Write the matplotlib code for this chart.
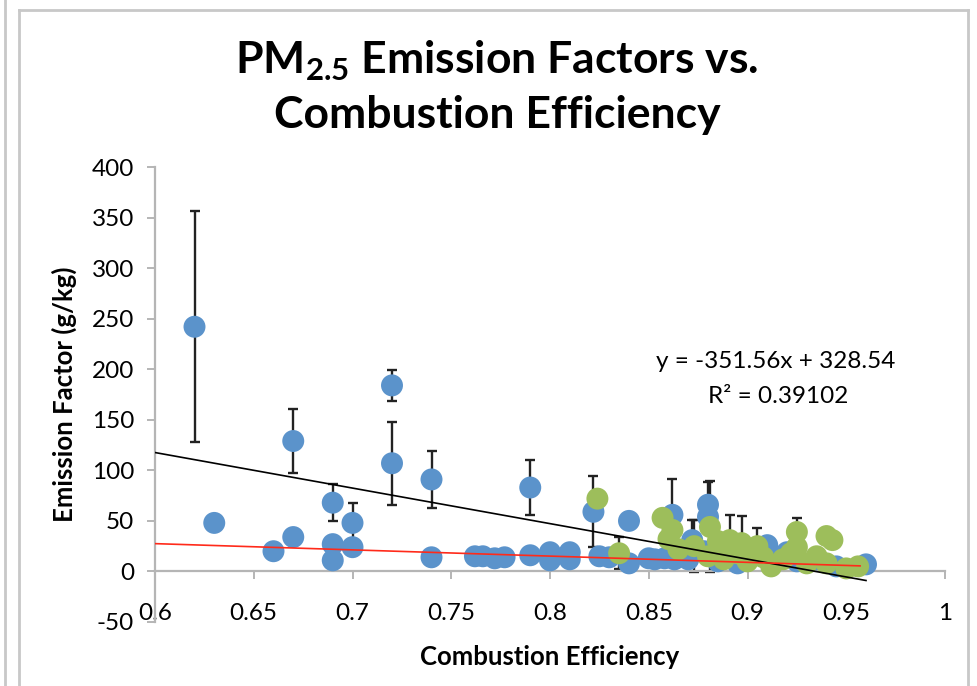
import matplotlib
matplotlib.use("Agg")
import matplotlib.pyplot as plt
from matplotlib.lines import Line2D
import numpy as np

plt.rcParams['font.family'] = ['Lato', 'DejaVu Sans']
plt.rcParams['mathtext.fontset'] = 'custom'
plt.rcParams['mathtext.rm'] = 'Lato'
plt.rcParams['mathtext.bf'] = 'Lato:bold'
plt.rcParams['axes.unicode_minus'] = False

# Series 1 (blue): combustion efficiency, emission factor, error (0 = none)
blue_x = [0.62, 0.63, 0.66, 0.67, 0.67, 0.69, 0.69, 0.69, 0.70, 0.70,
          0.72, 0.72, 0.74, 0.74, 0.762, 0.766, 0.772, 0.777, 0.79, 0.79,
          0.80, 0.80, 0.81, 0.81, 0.822, 0.825, 0.83, 0.84, 0.84, 0.85,
          0.853, 0.858, 0.862, 0.863, 0.87, 0.872, 0.88, 0.88, 0.878, 0.885,
          0.895, 0.90, 0.91, 0.912, 0.92, 0.925, 0.935, 0.945, 0.96]
blue_y = [242, 48, 20, 34, 129, 68, 27, 11, 48, 24,
          184, 107, 91, 14, 15, 15, 13, 14, 83, 16,
          19, 11, 19, 12, 59, 15, 14, 50, 8, 13,
          12, 13, 56, 12, 12, 31, 66, 54, 20, 10,
          8, 12, 26, 8, 19, 10, 12, 5, 7]
blue_err = [114, 0, 0, 0, 32, 18, 0, 0, 20, 0,
            15, 41, 28, 0, 0, 0, 0, 0, 27, 0,
            0, 0, 0, 0, 35, 0, 0, 0, 0, 0,
            0, 0, 35, 0, 0, 20, 22, 0, 0, 0,
            0, 0, 0, 0, 0, 0, 0, 0, 0]

# Series 2 (green)
green_x = [0.824, 0.835, 0.857, 0.862, 0.86, 0.865, 0.873, 0.881, 0.88, 0.885,
           0.888, 0.891, 0.895, 0.897, 0.90, 0.905, 0.908, 0.912, 0.918, 0.922,
           0.925, 0.925, 0.93, 0.935, 0.94, 0.943, 0.94, 0.95, 0.956]
green_y = [72, 18, 53, 41, 32, 22, 25, 44, 15, 30,
           12, 31, 18, 28, 10, 25, 14, 5, 12, 18,
           39, 24, 8, 15, 35, 31, 8, 3, 5]
green_err = [0, 16, 0, 0, 0, 0, 26, 45, 0, 0,
             0, 25, 0, 27, 0, 18, 0, 0, 0, 0,
             14, 0, 0, 0, 0, 0, 0, 0, 0]

# trendlines
fit_slope, fit_icpt = -351.56, 328.54
fit_x = [0.6, 0.96]
red_x = [0.6, 0.957]
red_y = [27.5, 5.5]

x_ticks = [0.6, 0.65, 0.7, 0.75, 0.8, 0.85, 0.9, 0.95, 1.0]
x_labels = ['0.6', '0.65', '0.7', '0.75', '0.8', '0.85', '0.9', '0.95', '1']
y_ticks = [-50, 0, 50, 100, 150, 200, 250, 300, 350, 400]

BLUE = '#5B93CB'
GREEN = '#9DBE5B'
AXGREY = '#B5B5B5'

fig = plt.figure(figsize=(9.77, 6.86), dpi=100)
W, H = 977, 686

def px(x, y):
    return x / W, 1 - y / H

# chart frame
for (x0, y0), (x1, y1) in [((19, 10), (968, 10)), ((19, 10), (19, 686)),
                           ((968, 10), (968, 686)), ((5, 0), (5, 686))]:
    a, b = px(x0, y0)
    c, d = px(x1, y1)
    fig.add_artist(Line2D([a, c], [b, d], transform=fig.transFigure,
                          color='#C8C8C8', lw=2))

ax = fig.add_axes([155 / W, 64 / H, 790 / W, 455 / H])
ax.set_xlim(0.6, 1.0)
ax.set_ylim(-50, 400)

# error bars
def draw_err(xs, ys, es):
    ex = [x for x, e in zip(xs, es) if e > 0]
    ey = [y for y, e in zip(ys, es) if e > 0]
    ee = [e for e in es if e > 0]
    ax.errorbar(ex, ey, yerr=ee, fmt='none', ecolor='#222222', elinewidth=1.7,
                capsize=3.5, capthick=1.7, zorder=2)

draw_err(blue_x, blue_y, blue_err)
draw_err(green_x, green_y, green_err)

ax.scatter(blue_x, blue_y, s=250, color=BLUE, edgecolors='none', zorder=3)
ax.scatter(green_x, green_y, s=250, color=GREEN, edgecolors='none', zorder=4)

fx = np.array(fit_x)
ax.plot(fx, fit_slope * fx + fit_icpt, color='black', lw=1.2, zorder=5)
ax.plot(red_x, red_y, color='#FF2A1A', lw=1.2, zorder=5)

ax.text(0.9144, 208, 'y = -351.56x + 328.54', ha='center', va='center', fontsize=17.5)
ax.text(0.9154, 173, 'R² = 0.39102', ha='center', va='center', fontsize=17.5)

# axes styling
for s in ['top', 'right']:
    ax.spines[s].set_visible(False)
ax.spines['bottom'].set_position(('data', 0))
ax.spines['bottom'].set_color(AXGREY)
ax.spines['left'].set_color(AXGREY)
ax.spines['bottom'].set_linewidth(1.6)
ax.spines['left'].set_linewidth(1.6)

ax.set_xticks(x_ticks)
ax.set_xticklabels(x_labels)
ax.set_yticks(y_ticks)
ax.tick_params(axis='x', direction='out', length=6, width=1.4, color=AXGREY,
               labelsize=17.5, pad=17)
ax.tick_params(axis='y', direction='out', length=6, width=1.4, color=AXGREY,
               labelsize=17.5, pad=9)

ax.set_xlabel('Combustion Efficiency', fontsize=18.5, fontweight='bold', labelpad=15)
ax.set_ylabel('Emission Factor (g/kg)', fontsize=18.5, fontweight='bold', labelpad=11)

fig.text(497 / W, 1 - 87 / H, 'PM$_{\\mathbf{2.5}}$ Emission Factors vs.\nCombustion Efficiency',
         ha='center', va='center', fontsize=32, fontweight='bold', linespacing=1.35)

fig.savefig('out.png', dpi=100)
